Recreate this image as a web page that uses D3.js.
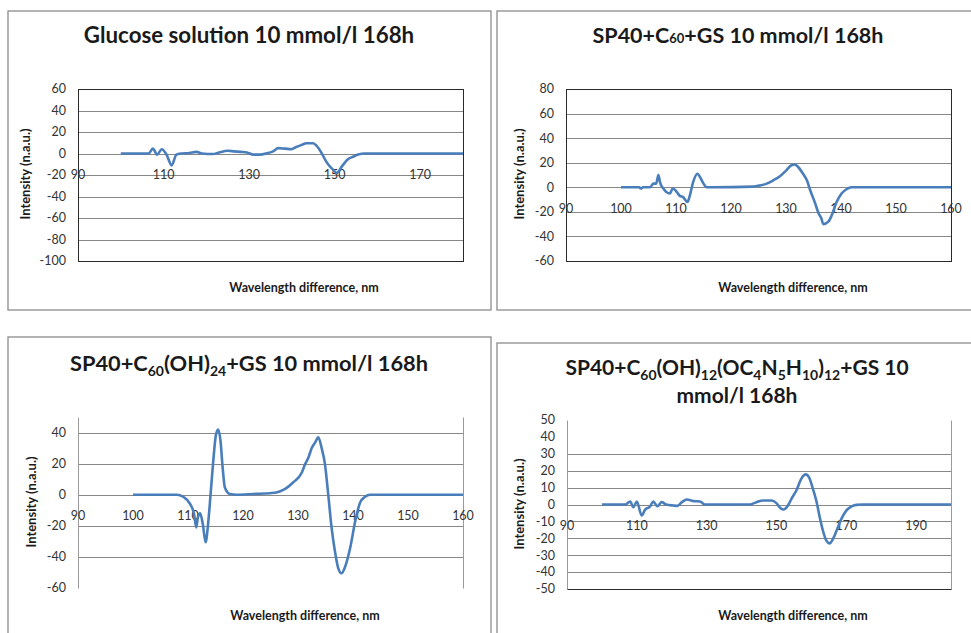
<!DOCTYPE html>
<html>
<head>
<meta charset="utf-8">
<script src="https://cdn.jsdelivr.net/npm/d3@7"></script>
<style>
  body { margin: 0; background: #fff; }
  svg { display: block; font-family: Lato, "Open Sans", sans-serif; }
</style>
</head>
<body>
<svg id="chart" width="971" height="633"></svg>
<script>
"use strict";

// --- data ---
const glucoseWave = [100, 106.5, 107.5, 108.5, 109.6, 110.7, 111.9, 113, 114, 116, 117.7, 119, 121.5, 123, 125, 126.5,
  128, 129.5, 131, 132.5, 134, 135.6, 136.8, 138.4, 139.9, 141, 142.3, 143.4, 145, 145.8, 147, 148.1, 149.6,
  150.5, 151.7, 152.9, 154.3, 155.5, 157, 180];
const glucoseInt = [0, 0, 4.5, -1, 4, -1, -11, -1, 0, 0.5, 1.5, 0, -0.5, 1, 2.5, 2,
  1.5, 1, -1, -1, 0, 2, 5, 4.5, 4, 6, 8, 9.5, 9.5, 7, 0, -8, -15,
  -18, -12, -6, -3, -1, 0, 0];

const c60Wave = [100, 103.3, 103.6, 104, 105.3, 105.9, 106.4, 106.8, 107.1, 107.7, 108.3, 108.9, 109.4, 110, 110.7,
  111.3, 112.1, 112.5, 113.1, 113.9, 114.4, 115, 115.6, 116.5, 124, 124.7, 126.5, 127.7, 128.9, 130.1, 131,
  131.6, 132.2, 133.1, 133.8, 134.4, 135.3, 135.9, 136.4, 136.8, 137.7, 138.3, 139.2, 140.1, 141, 141.9, 160];
const c60Int = [0, 0, -1, 0, 0, 3, 3, 10, 4, -1, -4, -5, -1, -3, -7,
  -8, -12, -7, 4, 11, 8, 3, 0, 0, 0.5, 1, 3, 5.7, 9, 14, 18,
  18.5, 16.5, 11, 5.7, -2.4, -13, -21, -25, -30, -28, -23, -12, -5, -1.6, 0, 0];

const ohWave = [100, 108, 109.1, 110.4, 111.1, 111.5, 111.8, 112.2, 112.7, 113.2, 113.7, 114.1, 114.6, 115.1, 115.5,
  115.9, 116.3, 116.7, 117.6, 118.9, 121.9, 124.9, 126.1, 127.6, 129.1, 130.7, 131.3, 131.9, 132.5, 133.1,
  133.7, 134.3, 134.9, 135.5, 136.1, 136.7, 137.3, 137.9, 138.5, 139.5, 140.4, 141.3, 142.2, 143.1, 160];
const ohInt = [0, 0, -1.3, -6, -12.4, -21, -14.6, -12, -19, -30.6, -17, 0, 22, 39, 42,
  35, 17.5, 4.7, 0.5, 0, 0.5, 1, 1.5, 3.6, 7.9, 14.3, 19.7, 24, 30, 33.5,
  37, 30, 19.7, 0, -21, -36, -47, -50.5, -47, -34, -17, -5, -1.3, 0, 0];

const argWave = [100, 106.7, 108.1, 109, 110, 111.4, 112.4, 113.8, 114.7, 115.9, 117.1, 118.4, 120.5, 121.6, 122.9,
  124.3, 126.2, 128.1, 129.5, 142.4, 144.3, 146.2, 148.6, 150, 151.1, 152.1, 153.3, 154.3, 155.7, 157.1,
  158.4, 159.3, 160.3, 161.4, 162.4, 163.3, 164.3, 165.2, 166.2, 167.6, 168.6, 170, 171.4, 172.9, 174.8, 200];
const argInt = [0, 0, 1.8, -1.6, 1.8, -6.5, -3, -1.2, 1.8, -1, 1.4, 0, -0.6, -0.8, 1.4,
  3, 2, 1.8, 0, 0, 1.4, 2.4, 2.4, 0.8, -2, -3, -0.6, 3.4, 8.3, 15.2,
  17.8, 16.2, 10.3, 2.4, -7.5, -15.4, -21.4, -23, -20.4, -13.5, -8.5, -3.6, -1.2, -0.2, 0, 0];

// title pieces: [text, kind] where kind is "" (normal), "small" or "sub"
const titles = [
  [[["Glucose solution 10 mmol/l 168h", ""]]],
  [[["SP40+C", ""], ["60", "small"], ["+GS 10 mmol/l 168h", ""]]],
  [[["SP40+C", ""], ["60", "sub"], ["(OH)", ""], ["24", "sub"], ["+GS 10 mmol/l 168h", ""]]],
  [[["SP40+C", ""], ["60", "sub"], ["(OH)", ""], ["12", "sub"], ["(OC", ""], ["4", "sub"], ["N", ""], ["5", "sub"],
    ["H", ""], ["10", "sub"], [")", ""], ["12", "sub"], ["+GS 10", ""]],
   [["mmol/l 168h", ""]]]
];

const xDomains = [[90, 180], [90, 160], [90, 160], [90, 200]];
const yDomains = [[-100, 60], [-60, 80], [-60, 50], [-50, 50]];
const xTicks = [[90, 110, 130, 150, 170], [90, 100, 110, 120, 130, 140, 150, 160],
  [90, 100, 110, 120, 130, 140, 150, 160], [90, 110, 130, 150, 170, 190]];
const yTicks = [[-100, -80, -60, -40, -20, 0, 20, 40, 60], [-60, -40, -20, 0, 20, 40, 60, 80],
  [-60, -40, -20, 0, 20, 40], [-50, -40, -30, -20, -10, 0, 10, 20, 30, 40, 50]];
const gridVals = [[-80, -60, -40, -20, 0, 20, 40], [-40, -20, 0, 20, 40, 60],
  [-40, -20, 0, 20, 40], [-40, -30, -20, -10, 0, 10, 20, 30]];

const yLabel = "Intensity (n.a.u.)";
const xLabel = "Wavelength difference, nm";

// --- layout of each panel (panel origin and inner positions) ---
const panels = [
  { ox: 8, oy: 11, w: 483, h: 299, l: 70, r: 455, t: 78, b: 250, tx: 241, ty: [32], yl: 17, ylc: 163, xtc: 296, xty: 277, frame: "box" },
  { ox: 497, oy: 11, w: 483, h: 299, l: 69, r: 454, t: 78, b: 250, tx: 241, ty: [32], yl: 22.5, ylc: 163, xtc: 296, xty: 277, frame: "box" },
  { ox: 8, oy: 337, w: 483, h: 310, l: 70, r: 455, t: 80, b: 251, tx: 241, ty: [34], yl: 23.5, ylc: 165, xtc: 297, xty: 279, frame: "sides" },
  { ox: 497, oy: 343, w: 483, h: 310, l: 70, r: 454, t: 77, b: 246, tx: 240, ty: [32, 60], yl: 22.5, ylc: 161, xtc: 296, xty: 273, frame: "bottom" }
];
const titleSize = [22.3, 21.5, 21.8, 21];

const series = [
  d3.zip(glucoseWave, glucoseInt),
  d3.zip(c60Wave, c60Int),
  d3.zip(ohWave, ohInt),
  d3.zip(argWave, argInt)
];

const svg = d3.select("#chart");

panels.forEach(function(p, i) {
  const g = svg.append("g").attr("transform", `translate(${p.ox},${p.oy})`);

  g.append("rect")
    .attr("x", 0).attr("y", 0).attr("width", p.w).attr("height", p.h)
    .attr("fill", "#fff").attr("stroke", "#8c8c8c").attr("stroke-width", 1.3);

  const x = d3.scaleLinear().domain(xDomains[i]).range([p.l, p.r]);
  const y = d3.scaleLinear().domain(yDomains[i]).range([p.b, p.t]);

  // gridlines
  g.append("g").selectAll("line")
    .data(gridVals[i])
    .join("line")
    .attr("x1", p.l).attr("x2", p.r)
    .attr("y1", d => Math.round(y(d)) + 0.5).attr("y2", d => Math.round(y(d)) + 0.5)
    .attr("stroke", "#878787").attr("stroke-width", 1);

  // plot frame
  const dark = "#2a2a2a", grey = "#9a9a9a";
  const L = p.l + 0.5, R = p.r + 0.5, T = Math.round(p.t) + 0.5, B = Math.round(p.b) + 0.5;
  if (p.frame === "box") {
    g.append("rect").attr("x", L).attr("y", T).attr("width", R - L).attr("height", B - T)
      .attr("fill", "none").attr("stroke", dark).attr("stroke-width", 1);
  } else {
    g.append("line").attr("x1", L).attr("x2", L).attr("y1", T).attr("y2", B).attr("stroke", grey);
    g.append("line").attr("x1", R).attr("x2", R).attr("y1", T).attr("y2", B).attr("stroke", grey);
    if (p.frame === "bottom") {
      g.append("line").attr("x1", L).attr("x2", R).attr("y1", B).attr("y2", B).attr("stroke", dark);
    }
  }

  // y tick labels
  g.append("g").selectAll("text")
    .data(yTicks[i])
    .join("text")
    .attr("x", p.l - 12)
    .attr("y", d => y(d))
    .attr("dy", "0.35em")
    .attr("text-anchor", "end")
    .attr("font-size", 12.5)
    .attr("fill", "#333")
    .text(d => d);

  // x tick labels (sit next to the zero line)
  g.append("g").selectAll("text")
    .data(xTicks[i])
    .join("text")
    .attr("x", d => x(d))
    .attr("y", y(0) + 21)
    .attr("dy", "0.35em")
    .attr("text-anchor", "middle")
    .attr("font-size", 12.5)
    .attr("fill", "#333")
    .text(d => d);

  // the spectrum
  const line = d3.line()
    .x(d => x(d[0]))
    .y(d => y(d[1]))
    .curve(d3.curveMonotoneX);

  g.append("path")
    .datum(series[i])
    .attr("d", line)
    .attr("fill", "none")
    .attr("stroke", "#4a7ebb")
    .attr("stroke-width", 2.6)
    .attr("stroke-linejoin", "round");

  // title
  titles[i].forEach(function(parts, k) {
    const t = g.append("text")
      .attr("x", p.tx).attr("y", p.ty[k])
      .attr("text-anchor", "middle")
      .attr("font-size", titleSize[i])
      .attr("font-weight", "bold")
      .attr("fill", "#1a1a1a");
    let shifted = false;
    parts.forEach(function(pc) {
      const s = t.append("tspan").text(pc[0]);
      if (pc[1] === "small") {
        s.attr("font-size", 13);
      } else if (pc[1] === "sub") {
        s.attr("font-size", 14).attr("dy", 5);
        shifted = true;
      } else if (shifted) {
        s.attr("dy", -5);
        shifted = false;
      }
    });
  });

  // axis titles
  g.append("text")
    .attr("transform", `translate(${p.yl},${p.ylc}) rotate(-90)`)
    .attr("text-anchor", "middle")
    .attr("dy", "0.35em")
    .attr("font-size", 13)
    .attr("font-weight", "bold")
    .attr("fill", "#1a1a1a")
    .text(yLabel);

  g.append("text")
    .attr("x", p.xtc).attr("y", p.xty)
    .attr("text-anchor", "middle")
    .attr("dy", "0.35em")
    .attr("font-size", 12.5)
    .attr("font-weight", "bold")
    .attr("fill", "#1a1a1a")
    .text(xLabel);
});
</script>
</body>
</html>
